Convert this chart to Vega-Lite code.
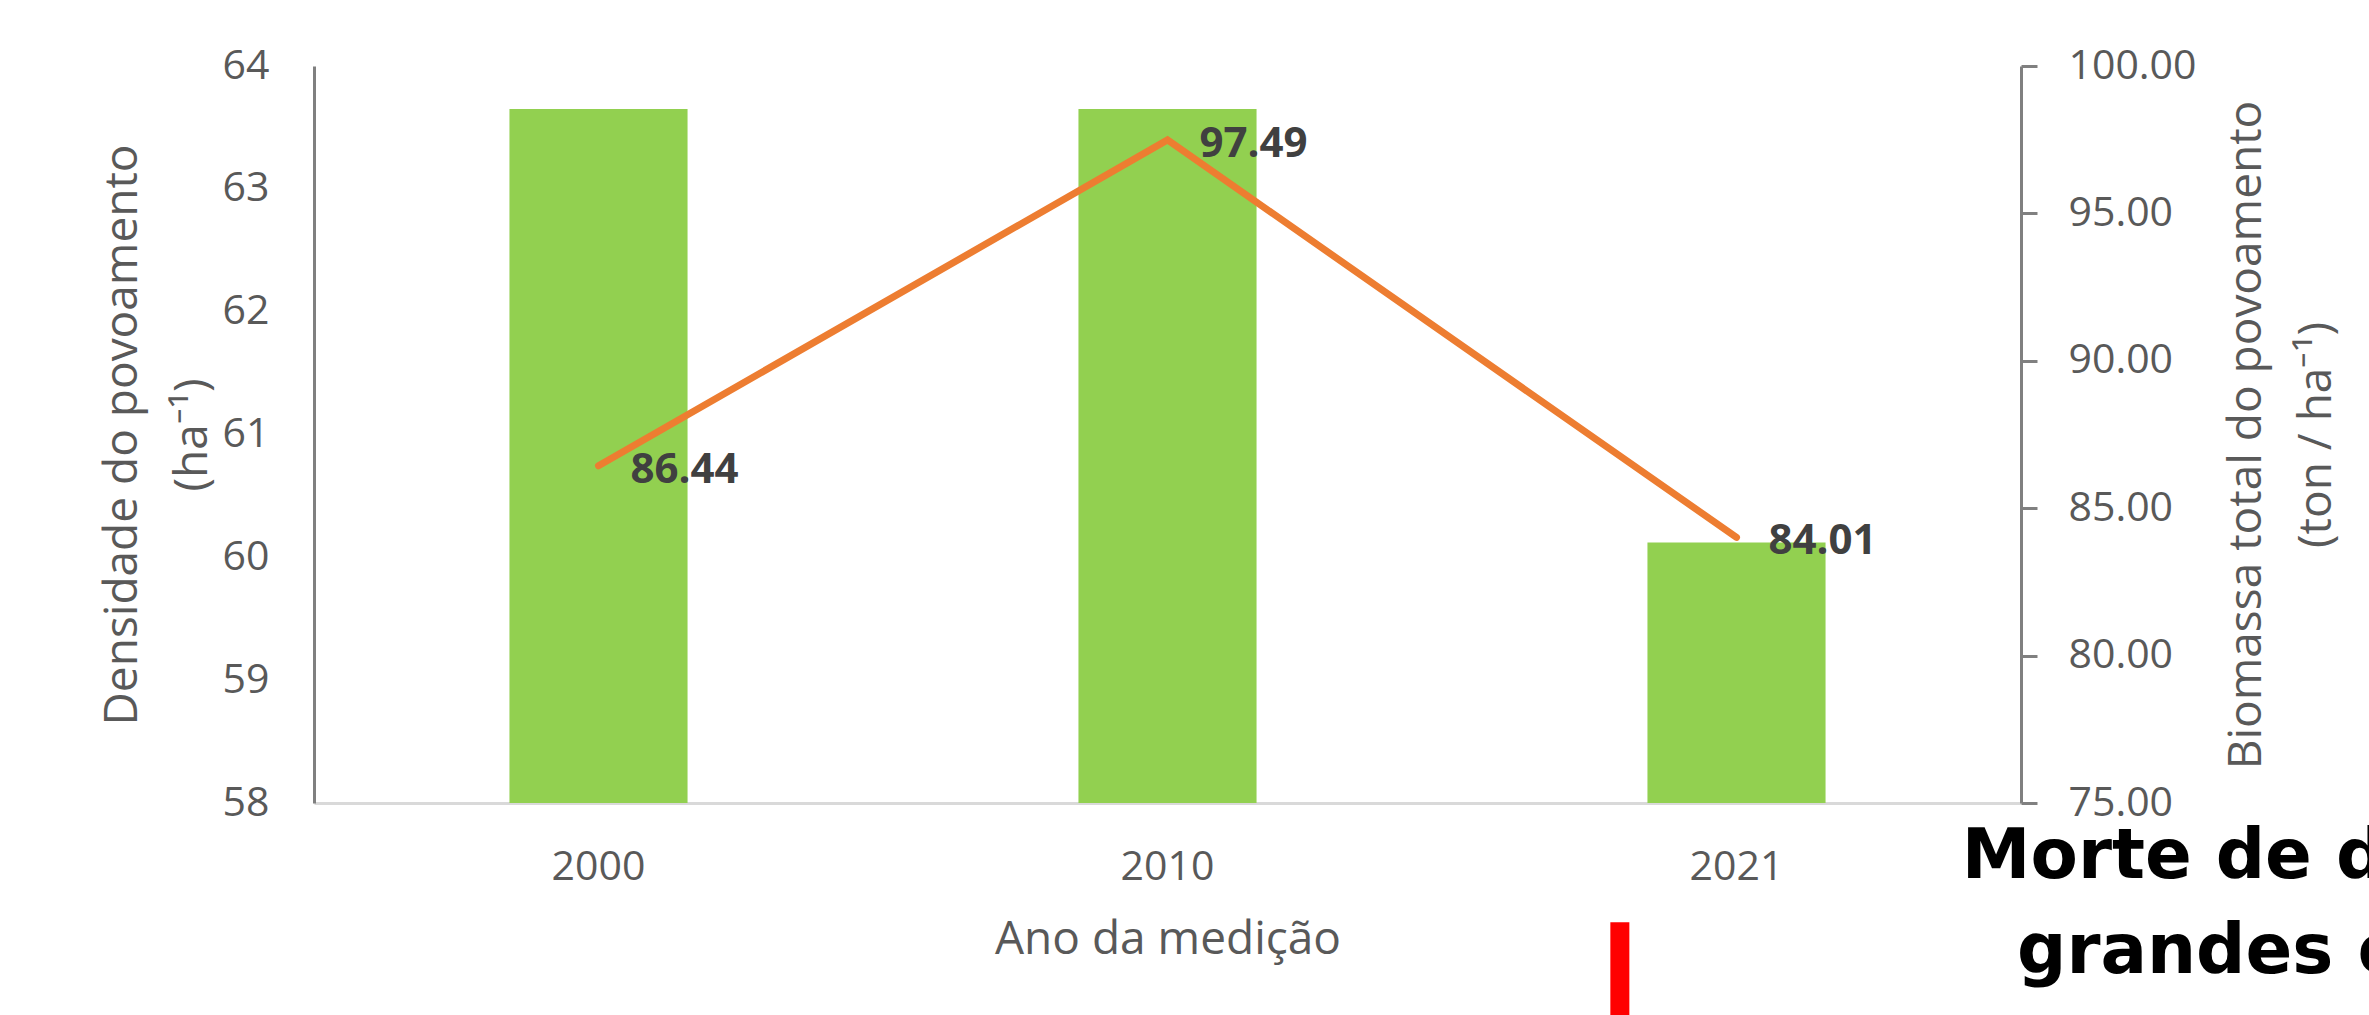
{
  "$schema": "https://vega.github.io/schema/vega-lite/v6.json",
  "width": 1707,
  "height": 737,
  "autosize": {"type": "none"},
  "padding": {"left": 314, "top": 66, "right": 348, "bottom": 212},
  "background": "white",
  "config": {
    "view": {"stroke": null},
    "font": "Open Sans",
    "axis": {
      "labelFont": "Open Sans",
      "titleFont": "Open Sans",
      "labelColor": "#595959",
      "titleColor": "#595959",
      "titleFontWeight": "normal",
      "grid": false
    }
  },
  "datasets": {
    "medicoes": [
      {"ano": "2000", "dens": 63.65, "bio": 86.44},
      {"ano": "2010", "dens": 63.65, "bio": 97.49},
      {"ano": "2021", "dens": 60.12, "bio": 84.01}
    ],
    "nota": [
      {"ano": "2021", "linha1": "Morte de d", "linha2": "grandes e"}
    ]
  },
  "layer": [
    {
      "layer": [
        {
          "data": {"name": "medicoes"},
          "mark": {"type": "bar", "color": "#92D050", "width": {"band": 0.313}},
          "encoding": {
            "x": {
              "field": "ano",
              "type": "ordinal",
              "scale": {"type": "band", "paddingInner": 0, "paddingOuter": 0},
              "axis": {
                "title": "Ano da medição",
                "labelAngle": 0,
                "ticks": false,
                "domainColor": "#d9d9d9",
                "domainWidth": 3,
                "labelFontSize": 41,
                "labelPadding": 44,
                "titleFontSize": 46,
                "titlePadding": 30
              }
            },
            "y": {
              "field": "dens",
              "type": "quantitative",
              "stack": null,
              "scale": {"domain": [58, 64], "zero": false, "nice": false},
              "axis": {
                "title": ["Densidade do povoamento", "(ha⁻¹)"],
                "values": [58, 59, 60, 61, 62, 63, 64],
                "format": "d",
                "ticks": false,
                "domainColor": "#808080",
                "domainWidth": 3,
                "labelFontSize": 41,
                "labelPadding": 45,
                "titleFontSize": 46,
                "titleLineHeight": 70,
                "titlePadding": 6
              }
            }
          }
        },
        {
          "data": {"name": "nota"},
          "mark": {"type": "rule", "color": "#FF0000", "strokeWidth": 19},
          "encoding": {
            "x": {"field": "ano", "type": "ordinal", "bandPosition": 0.295},
            "y": {"datum": 57.03, "type": "quantitative"},
            "y2": {"datum": 55}
          }
        },
        {
          "data": {"name": "nota"},
          "mark": {"type": "text", "font": "DejaVu Sans", "fontWeight": "bold", "fontSize": 69, "align": "left", "baseline": "alphabetic", "color": "#000000"},
          "encoding": {
            "x": {"field": "ano", "type": "ordinal", "bandPosition": 0.896},
            "y": {"datum": 57.388, "type": "quantitative"},
            "text": {"field": "linha1"}
          }
        },
        {
          "data": {"name": "nota"},
          "mark": {"type": "text", "font": "DejaVu Sans", "fontWeight": "bold", "fontSize": 69, "align": "left", "baseline": "alphabetic", "color": "#000000"},
          "encoding": {
            "x": {"field": "ano", "type": "ordinal", "bandPosition": 0.993},
            "y": {"datum": 56.614, "type": "quantitative"},
            "text": {"field": "linha2"}
          }
        }
      ]
    },
    {
      "data": {"name": "medicoes"},
      "layer": [
        {
          "mark": {"type": "line", "color": "#ED7D31", "strokeWidth": 7, "strokeCap": "round", "strokeJoin": "miter"},
          "encoding": {
            "x": {"field": "ano", "type": "ordinal", "bandPosition": 0.5},
            "y": {
              "field": "bio",
              "type": "quantitative",
              "scale": {"domain": [75, 100], "zero": false, "nice": false},
              "axis": {
                "orient": "right",
                "title": ["Biomassa total do povoamento", "(ton / ha⁻¹)"],
                "values": [75, 80, 85, 90, 95, 100],
                "format": ".2f",
                "ticks": true,
                "tickSize": 16,
                "tickWidth": 3,
                "tickColor": "#808080",
                "domainColor": "#808080",
                "domainWidth": 3,
                "labelFontSize": 41,
                "labelPadding": 31,
                "titleFontSize": 46,
                "titleLineHeight": 70,
                "titleAngle": 270,
                "titleBaseline": "top",
                "titlePadding": -41
              }
            }
          }
        },
        {
          "mark": {"type": "text", "align": "left", "baseline": "middle", "dx": 32, "dy": 4, "fontSize": 42, "fontWeight": "bold", "color": "#404040", "font": "Open Sans"},
          "encoding": {
            "x": {"field": "ano", "type": "ordinal", "bandPosition": 0.5},
            "y": {"field": "bio", "type": "quantitative"},
            "text": {"field": "bio", "type": "quantitative", "format": ".2f"}
          }
        }
      ]
    }
  ],
  "resolve": {"scale": {"y": "independent"}}
}
